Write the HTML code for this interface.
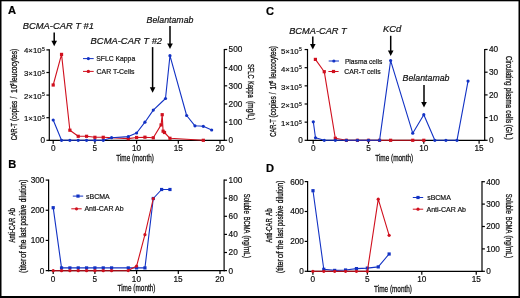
<!DOCTYPE html>
<html><head><meta charset="utf-8"><style>
html,body{margin:0;padding:0;background:#fff;}
svg{display:block;font-family:"Liberation Sans", sans-serif;}

</style></head><body>
<svg width="520" height="298" viewBox="0 0 520 298" xmlns="http://www.w3.org/2000/svg">
<rect width="520" height="298" fill="#fff"/>
<rect x="0" y="0" width="520" height="1.3" fill="#000"/>
<rect x="0" y="0" width="1.5" height="298" fill="#000"/>
<rect x="518.5" y="0" width="1.5" height="298" fill="#000"/>
<rect x="0" y="296" width="520" height="2" fill="#000"/>
<line x1="49.3" y1="49.300000000000004" x2="49.3" y2="140.9" stroke="#000" stroke-width="1.2"/>
<line x1="46.4" y1="140.3" x2="49.3" y2="140.3" stroke="#000" stroke-width="1.2"/>
<line x1="46.4" y1="117.70000000000002" x2="49.3" y2="117.70000000000002" stroke="#000" stroke-width="1.2"/>
<line x1="46.4" y1="95.10000000000001" x2="49.3" y2="95.10000000000001" stroke="#000" stroke-width="1.2"/>
<line x1="46.4" y1="72.5" x2="49.3" y2="72.5" stroke="#000" stroke-width="1.2"/>
<line x1="46.4" y1="49.900000000000006" x2="49.3" y2="49.900000000000006" stroke="#000" stroke-width="1.2"/>
<line x1="224.3" y1="48.90000000000001" x2="224.3" y2="140.9" stroke="#000" stroke-width="1.2"/>
<line x1="224.3" y1="140.3" x2="227.20000000000002" y2="140.3" stroke="#000" stroke-width="1.2"/>
<line x1="224.3" y1="122.14000000000001" x2="227.20000000000002" y2="122.14000000000001" stroke="#000" stroke-width="1.2"/>
<line x1="224.3" y1="103.98000000000002" x2="227.20000000000002" y2="103.98000000000002" stroke="#000" stroke-width="1.2"/>
<line x1="224.3" y1="85.82000000000001" x2="227.20000000000002" y2="85.82000000000001" stroke="#000" stroke-width="1.2"/>
<line x1="224.3" y1="67.66000000000001" x2="227.20000000000002" y2="67.66000000000001" stroke="#000" stroke-width="1.2"/>
<line x1="224.3" y1="49.500000000000014" x2="227.20000000000002" y2="49.500000000000014" stroke="#000" stroke-width="1.2"/>
<line x1="48.699999999999996" y1="140.3" x2="224.9" y2="140.3" stroke="#000" stroke-width="1.2"/>
<line x1="53.2" y1="140.3" x2="53.2" y2="143.70000000000002" stroke="#000" stroke-width="1.2"/>
<line x1="94.9" y1="140.3" x2="94.9" y2="143.70000000000002" stroke="#000" stroke-width="1.2"/>
<line x1="136.60000000000002" y1="140.3" x2="136.60000000000002" y2="143.70000000000002" stroke="#000" stroke-width="1.2"/>
<line x1="178.3" y1="140.3" x2="178.3" y2="143.70000000000002" stroke="#000" stroke-width="1.2"/>
<line x1="220.0" y1="140.3" x2="220.0" y2="143.70000000000002" stroke="#000" stroke-width="1.2"/>
<line x1="54.2" y1="32.4" x2="54.2" y2="41.7" stroke="#000" stroke-width="1.5"/>
<path d="M51.400000000000006,40.7 L57.0,40.7 L54.2,46.2 Z" fill="#000"/>
<line x1="152.6" y1="47.1" x2="152.6" y2="88.3" stroke="#000" stroke-width="1.5"/>
<path d="M149.79999999999998,87.3 L155.4,87.3 L152.6,92.8 Z" fill="#000"/>
<line x1="170.0" y1="26.0" x2="170.0" y2="44.5" stroke="#000" stroke-width="1.5"/>
<path d="M167.2,43.5 L172.8,43.5 L170.0,49.0 Z" fill="#000"/>
<polyline points="53.20,85.00 61.54,54.40 69.88,130.20 78.22,136.30 86.56,136.30 94.90,137.30 103.24,137.30 128.26,138.60 136.60,137.50 144.94,137.20 153.28,137.80 161.10,124.90 162.20,114.70 163.10,131.20 164.50,132.50 169.96,138.30 203.32,140.30" fill="none" stroke="#d0101e" stroke-width="1.1" stroke-linejoin="round"/>
<rect x="51.60" y="83.40" width="3.2" height="3.2" fill="#d0101e"/>
<rect x="59.94" y="52.80" width="3.2" height="3.2" fill="#d0101e"/>
<rect x="68.28" y="128.60" width="3.2" height="3.2" fill="#d0101e"/>
<rect x="76.62" y="134.70" width="3.2" height="3.2" fill="#d0101e"/>
<rect x="84.96" y="134.70" width="3.2" height="3.2" fill="#d0101e"/>
<rect x="93.30" y="135.70" width="3.2" height="3.2" fill="#d0101e"/>
<rect x="101.64" y="135.70" width="3.2" height="3.2" fill="#d0101e"/>
<rect x="126.66" y="137.00" width="3.2" height="3.2" fill="#d0101e"/>
<rect x="135.00" y="135.90" width="3.2" height="3.2" fill="#d0101e"/>
<rect x="143.34" y="135.60" width="3.2" height="3.2" fill="#d0101e"/>
<rect x="151.68" y="136.20" width="3.2" height="3.2" fill="#d0101e"/>
<rect x="159.50" y="123.30" width="3.2" height="3.2" fill="#d0101e"/>
<rect x="160.60" y="113.10" width="3.2" height="3.2" fill="#d0101e"/>
<rect x="161.50" y="129.60" width="3.2" height="3.2" fill="#d0101e"/>
<rect x="162.90" y="130.90" width="3.2" height="3.2" fill="#d0101e"/>
<rect x="168.36" y="136.70" width="3.2" height="3.2" fill="#d0101e"/>
<rect x="201.72" y="138.70" width="3.2" height="3.2" fill="#d0101e"/>
<polyline points="53.20,120.00 61.54,140.30 69.88,140.30 78.22,140.30 86.56,140.30 94.90,140.30 103.24,140.30 111.58,137.70 128.26,136.60 136.60,133.00 144.94,122.20 153.28,110.10 165.50,98.50 169.96,55.70 186.64,115.50 194.98,125.80 203.32,126.30 211.66,130.00" fill="none" stroke="#1232c4" stroke-width="1.1" stroke-linejoin="round"/>
<circle cx="53.20" cy="120.00" r="1.6" fill="#1232c4"/>
<circle cx="61.54" cy="140.30" r="1.6" fill="#1232c4"/>
<circle cx="69.88" cy="140.30" r="1.6" fill="#1232c4"/>
<circle cx="78.22" cy="140.30" r="1.6" fill="#1232c4"/>
<circle cx="86.56" cy="140.30" r="1.6" fill="#1232c4"/>
<circle cx="94.90" cy="140.30" r="1.6" fill="#1232c4"/>
<circle cx="103.24" cy="140.30" r="1.6" fill="#1232c4"/>
<circle cx="111.58" cy="137.70" r="1.6" fill="#1232c4"/>
<circle cx="128.26" cy="136.60" r="1.6" fill="#1232c4"/>
<circle cx="136.60" cy="133.00" r="1.6" fill="#1232c4"/>
<circle cx="144.94" cy="122.20" r="1.6" fill="#1232c4"/>
<circle cx="153.28" cy="110.10" r="1.6" fill="#1232c4"/>
<circle cx="165.50" cy="98.50" r="1.6" fill="#1232c4"/>
<circle cx="169.96" cy="55.70" r="1.6" fill="#1232c4"/>
<circle cx="186.64" cy="115.50" r="1.6" fill="#1232c4"/>
<circle cx="194.98" cy="125.80" r="1.6" fill="#1232c4"/>
<circle cx="203.32" cy="126.30" r="1.6" fill="#1232c4"/>
<circle cx="211.66" cy="130.00" r="1.6" fill="#1232c4"/>
<line x1="83.0" y1="58.6" x2="93.7" y2="58.6" stroke="#1232c4" stroke-width="1.0"/>
<circle cx="88.35" cy="58.60" r="1.6" fill="#1232c4"/>
<line x1="83.0" y1="71.4" x2="93.7" y2="71.4" stroke="#d0101e" stroke-width="1.0"/>
<circle cx="88.35" cy="71.40" r="1.7" fill="#d0101e"/>
<line x1="48.6" y1="179.49000000000004" x2="48.6" y2="271.20000000000005" stroke="#000" stroke-width="1.2"/>
<line x1="45.7" y1="270.6" x2="48.6" y2="270.6" stroke="#000" stroke-width="1.2"/>
<line x1="45.7" y1="240.43" x2="48.6" y2="240.43" stroke="#000" stroke-width="1.2"/>
<line x1="45.7" y1="210.26000000000002" x2="48.6" y2="210.26000000000002" stroke="#000" stroke-width="1.2"/>
<line x1="45.7" y1="180.09000000000003" x2="48.6" y2="180.09000000000003" stroke="#000" stroke-width="1.2"/>
<line x1="224.1" y1="179.50000000000003" x2="224.1" y2="271.20000000000005" stroke="#000" stroke-width="1.2"/>
<line x1="224.1" y1="270.6" x2="227.0" y2="270.6" stroke="#000" stroke-width="1.2"/>
<line x1="224.1" y1="252.50000000000003" x2="227.0" y2="252.50000000000003" stroke="#000" stroke-width="1.2"/>
<line x1="224.1" y1="234.40000000000003" x2="227.0" y2="234.40000000000003" stroke="#000" stroke-width="1.2"/>
<line x1="224.1" y1="216.3" x2="227.0" y2="216.3" stroke="#000" stroke-width="1.2"/>
<line x1="224.1" y1="198.20000000000002" x2="227.0" y2="198.20000000000002" stroke="#000" stroke-width="1.2"/>
<line x1="224.1" y1="180.10000000000002" x2="227.0" y2="180.10000000000002" stroke="#000" stroke-width="1.2"/>
<line x1="48.0" y1="270.6" x2="224.7" y2="270.6" stroke="#000" stroke-width="1.2"/>
<line x1="53.2" y1="270.6" x2="53.2" y2="274.0" stroke="#000" stroke-width="1.2"/>
<line x1="94.9" y1="270.6" x2="94.9" y2="274.0" stroke="#000" stroke-width="1.2"/>
<line x1="136.60000000000002" y1="270.6" x2="136.60000000000002" y2="274.0" stroke="#000" stroke-width="1.2"/>
<line x1="178.3" y1="270.6" x2="178.3" y2="274.0" stroke="#000" stroke-width="1.2"/>
<line x1="220.0" y1="270.6" x2="220.0" y2="274.0" stroke="#000" stroke-width="1.2"/>
<polyline points="53.20,207.70 61.54,267.90 69.88,267.90 78.22,267.90 86.56,267.90 94.90,267.90 103.24,267.90 111.58,267.90 128.26,267.90 136.60,267.90 144.94,267.90 153.28,198.50 161.62,189.50 169.96,189.50" fill="none" stroke="#1232c4" stroke-width="1.1" stroke-linejoin="round"/>
<rect x="51.60" y="206.10" width="3.2" height="3.2" fill="#1232c4"/>
<rect x="59.94" y="266.30" width="3.2" height="3.2" fill="#1232c4"/>
<rect x="68.28" y="266.30" width="3.2" height="3.2" fill="#1232c4"/>
<rect x="76.62" y="266.30" width="3.2" height="3.2" fill="#1232c4"/>
<rect x="84.96" y="266.30" width="3.2" height="3.2" fill="#1232c4"/>
<rect x="93.30" y="266.30" width="3.2" height="3.2" fill="#1232c4"/>
<rect x="101.64" y="266.30" width="3.2" height="3.2" fill="#1232c4"/>
<rect x="109.98" y="266.30" width="3.2" height="3.2" fill="#1232c4"/>
<rect x="126.66" y="266.30" width="3.2" height="3.2" fill="#1232c4"/>
<rect x="135.00" y="266.30" width="3.2" height="3.2" fill="#1232c4"/>
<rect x="143.34" y="266.30" width="3.2" height="3.2" fill="#1232c4"/>
<rect x="151.68" y="196.90" width="3.2" height="3.2" fill="#1232c4"/>
<rect x="160.02" y="187.90" width="3.2" height="3.2" fill="#1232c4"/>
<rect x="168.36" y="187.90" width="3.2" height="3.2" fill="#1232c4"/>
<polyline points="53.20,270.70 61.54,270.70 69.88,270.70 78.22,270.70 86.56,270.70 94.90,270.70 103.24,270.70 111.58,270.70 128.26,270.60 136.60,266.10 144.94,234.70 153.28,198.50" fill="none" stroke="#d0101e" stroke-width="1.1" stroke-linejoin="round"/>
<circle cx="53.20" cy="270.70" r="1.6" fill="#d0101e"/>
<circle cx="61.54" cy="270.70" r="1.6" fill="#d0101e"/>
<circle cx="69.88" cy="270.70" r="1.6" fill="#d0101e"/>
<circle cx="78.22" cy="270.70" r="1.6" fill="#d0101e"/>
<circle cx="86.56" cy="270.70" r="1.6" fill="#d0101e"/>
<circle cx="94.90" cy="270.70" r="1.6" fill="#d0101e"/>
<circle cx="103.24" cy="270.70" r="1.6" fill="#d0101e"/>
<circle cx="111.58" cy="270.70" r="1.6" fill="#d0101e"/>
<circle cx="128.26" cy="270.60" r="1.6" fill="#d0101e"/>
<circle cx="136.60" cy="266.10" r="1.6" fill="#d0101e"/>
<circle cx="144.94" cy="234.70" r="1.6" fill="#d0101e"/>
<circle cx="153.28" cy="198.50" r="1.6" fill="#d0101e"/>
<line x1="72.8" y1="196.1" x2="83.2" y2="196.1" stroke="#1232c4" stroke-width="1.0"/>
<rect x="76.40" y="194.50" width="3.2" height="3.2" fill="#1232c4"/>
<line x1="71.3" y1="208.8" x2="81.7" y2="208.8" stroke="#d0101e" stroke-width="1.0"/>
<circle cx="76.50" cy="208.80" r="1.6" fill="#d0101e"/>
<line x1="307.5" y1="48.95000000000001" x2="307.5" y2="140.9" stroke="#000" stroke-width="1.2"/>
<line x1="304.6" y1="140.3" x2="307.5" y2="140.3" stroke="#000" stroke-width="1.2"/>
<line x1="304.6" y1="122.15" x2="307.5" y2="122.15" stroke="#000" stroke-width="1.2"/>
<line x1="304.6" y1="104.00000000000001" x2="307.5" y2="104.00000000000001" stroke="#000" stroke-width="1.2"/>
<line x1="304.6" y1="85.85000000000002" x2="307.5" y2="85.85000000000002" stroke="#000" stroke-width="1.2"/>
<line x1="304.6" y1="67.70000000000002" x2="307.5" y2="67.70000000000002" stroke="#000" stroke-width="1.2"/>
<line x1="304.6" y1="49.55000000000001" x2="307.5" y2="49.55000000000001" stroke="#000" stroke-width="1.2"/>
<line x1="484.7" y1="48.90000000000001" x2="484.7" y2="140.9" stroke="#000" stroke-width="1.2"/>
<line x1="484.7" y1="140.3" x2="487.59999999999997" y2="140.3" stroke="#000" stroke-width="1.2"/>
<line x1="484.7" y1="117.60000000000001" x2="487.59999999999997" y2="117.60000000000001" stroke="#000" stroke-width="1.2"/>
<line x1="484.7" y1="94.9" x2="487.59999999999997" y2="94.9" stroke="#000" stroke-width="1.2"/>
<line x1="484.7" y1="72.20000000000002" x2="487.59999999999997" y2="72.20000000000002" stroke="#000" stroke-width="1.2"/>
<line x1="484.7" y1="49.500000000000014" x2="487.59999999999997" y2="49.500000000000014" stroke="#000" stroke-width="1.2"/>
<line x1="306.9" y1="140.3" x2="485.3" y2="140.3" stroke="#000" stroke-width="1.2"/>
<line x1="313.2" y1="140.3" x2="313.2" y2="143.70000000000002" stroke="#000" stroke-width="1.2"/>
<line x1="368.5" y1="140.3" x2="368.5" y2="143.70000000000002" stroke="#000" stroke-width="1.2"/>
<line x1="423.8" y1="140.3" x2="423.8" y2="143.70000000000002" stroke="#000" stroke-width="1.2"/>
<line x1="479.1" y1="140.3" x2="479.1" y2="143.70000000000002" stroke="#000" stroke-width="1.2"/>
<line x1="312.8" y1="36.4" x2="312.8" y2="45.1" stroke="#000" stroke-width="1.5"/>
<path d="M310.0,44.1 L315.6,44.1 L312.8,49.6 Z" fill="#000"/>
<line x1="390.7" y1="35.8" x2="390.7" y2="51.5" stroke="#000" stroke-width="1.5"/>
<path d="M387.9,50.5 L393.5,50.5 L390.7,56.0 Z" fill="#000"/>
<line x1="424.0" y1="85.1" x2="424.0" y2="102.9" stroke="#000" stroke-width="1.5"/>
<path d="M421.2,101.9 L426.8,101.9 L424.0,107.4 Z" fill="#000"/>
<polyline points="315.40,59.40 324.26,71.70 335.32,138.30 346.38,140.30 357.44,140.30 368.50,140.30 379.56,140.30 390.62,140.30 401.68,140.30 412.74,140.30 423.80,140.30" fill="none" stroke="#d0101e" stroke-width="1.1" stroke-linejoin="round"/>
<rect x="313.80" y="57.80" width="3.2" height="3.2" fill="#d0101e"/>
<rect x="322.66" y="70.10" width="3.2" height="3.2" fill="#d0101e"/>
<rect x="333.72" y="136.70" width="3.2" height="3.2" fill="#d0101e"/>
<rect x="344.78" y="138.70" width="3.2" height="3.2" fill="#d0101e"/>
<rect x="355.84" y="138.70" width="3.2" height="3.2" fill="#d0101e"/>
<rect x="366.90" y="138.70" width="3.2" height="3.2" fill="#d0101e"/>
<rect x="377.96" y="138.70" width="3.2" height="3.2" fill="#d0101e"/>
<rect x="389.02" y="138.70" width="3.2" height="3.2" fill="#d0101e"/>
<rect x="411.14" y="138.70" width="3.2" height="3.2" fill="#d0101e"/>
<rect x="422.20" y="138.70" width="3.2" height="3.2" fill="#d0101e"/>
<polyline points="313.30,121.80 315.50,137.80 324.26,140.30 335.32,140.30 346.38,140.30 357.44,140.30 368.50,140.30 379.56,140.30 390.62,60.60 412.74,133.20 423.80,114.70 434.86,140.30 445.92,140.30 456.98,140.30 468.04,81.10" fill="none" stroke="#1232c4" stroke-width="1.1" stroke-linejoin="round"/>
<circle cx="313.30" cy="121.80" r="1.6" fill="#1232c4"/>
<circle cx="315.50" cy="137.80" r="1.6" fill="#1232c4"/>
<circle cx="324.26" cy="140.30" r="1.6" fill="#1232c4"/>
<circle cx="335.32" cy="140.30" r="1.6" fill="#1232c4"/>
<circle cx="346.38" cy="140.30" r="1.6" fill="#1232c4"/>
<circle cx="357.44" cy="140.30" r="1.6" fill="#1232c4"/>
<circle cx="368.50" cy="140.30" r="1.6" fill="#1232c4"/>
<circle cx="379.56" cy="140.30" r="1.6" fill="#1232c4"/>
<circle cx="390.62" cy="60.60" r="1.6" fill="#1232c4"/>
<circle cx="412.74" cy="133.20" r="1.6" fill="#1232c4"/>
<circle cx="423.80" cy="114.70" r="1.6" fill="#1232c4"/>
<circle cx="434.86" cy="140.30" r="1.6" fill="#1232c4"/>
<circle cx="445.92" cy="140.30" r="1.6" fill="#1232c4"/>
<circle cx="456.98" cy="140.30" r="1.6" fill="#1232c4"/>
<circle cx="468.04" cy="81.10" r="1.6" fill="#1232c4"/>
<line x1="328.7" y1="61.0" x2="339.0" y2="61.0" stroke="#1232c4" stroke-width="1.0"/>
<circle cx="333.85" cy="61.00" r="1.6" fill="#1232c4"/>
<line x1="328.4" y1="71.5" x2="338.6" y2="71.5" stroke="#d0101e" stroke-width="1.0"/>
<rect x="331.90" y="69.90" width="3.2" height="3.2" fill="#d0101e"/>
<line x1="307.6" y1="181.00000000000003" x2="307.6" y2="271.90000000000003" stroke="#000" stroke-width="1.2"/>
<line x1="304.70000000000005" y1="271.3" x2="307.6" y2="271.3" stroke="#000" stroke-width="1.2"/>
<line x1="304.70000000000005" y1="241.4" x2="307.6" y2="241.4" stroke="#000" stroke-width="1.2"/>
<line x1="304.70000000000005" y1="211.5" x2="307.6" y2="211.5" stroke="#000" stroke-width="1.2"/>
<line x1="304.70000000000005" y1="181.60000000000002" x2="307.6" y2="181.60000000000002" stroke="#000" stroke-width="1.2"/>
<line x1="482.0" y1="181.10000000000002" x2="482.0" y2="271.90000000000003" stroke="#000" stroke-width="1.2"/>
<line x1="482.0" y1="271.3" x2="484.9" y2="271.3" stroke="#000" stroke-width="1.2"/>
<line x1="482.0" y1="248.9" x2="484.9" y2="248.9" stroke="#000" stroke-width="1.2"/>
<line x1="482.0" y1="226.5" x2="484.9" y2="226.5" stroke="#000" stroke-width="1.2"/>
<line x1="482.0" y1="204.10000000000002" x2="484.9" y2="204.10000000000002" stroke="#000" stroke-width="1.2"/>
<line x1="482.0" y1="181.70000000000002" x2="484.9" y2="181.70000000000002" stroke="#000" stroke-width="1.2"/>
<line x1="307.0" y1="271.3" x2="482.6" y2="271.3" stroke="#000" stroke-width="1.2"/>
<line x1="312.9" y1="271.3" x2="312.9" y2="274.7" stroke="#000" stroke-width="1.2"/>
<line x1="367.34999999999997" y1="271.3" x2="367.34999999999997" y2="274.7" stroke="#000" stroke-width="1.2"/>
<line x1="421.79999999999995" y1="271.3" x2="421.79999999999995" y2="274.7" stroke="#000" stroke-width="1.2"/>
<line x1="476.25" y1="271.3" x2="476.25" y2="274.7" stroke="#000" stroke-width="1.2"/>
<polyline points="313.00,190.70 323.79,269.30 334.68,270.40 345.57,270.00 356.46,268.60 367.35,268.10 378.24,266.90 389.13,254.00" fill="none" stroke="#1232c4" stroke-width="1.1" stroke-linejoin="round"/>
<rect x="311.40" y="189.10" width="3.2" height="3.2" fill="#1232c4"/>
<rect x="322.19" y="267.70" width="3.2" height="3.2" fill="#1232c4"/>
<rect x="333.08" y="268.80" width="3.2" height="3.2" fill="#1232c4"/>
<rect x="343.97" y="268.40" width="3.2" height="3.2" fill="#1232c4"/>
<rect x="354.86" y="267.00" width="3.2" height="3.2" fill="#1232c4"/>
<rect x="365.75" y="266.50" width="3.2" height="3.2" fill="#1232c4"/>
<rect x="376.64" y="265.30" width="3.2" height="3.2" fill="#1232c4"/>
<rect x="387.53" y="252.40" width="3.2" height="3.2" fill="#1232c4"/>
<polyline points="312.90,271.30 323.79,271.30 334.68,271.30 345.57,271.30 356.46,271.30 367.35,271.30 378.24,199.20 389.13,235.30" fill="none" stroke="#d0101e" stroke-width="1.1" stroke-linejoin="round"/>
<circle cx="312.90" cy="271.30" r="1.6" fill="#d0101e"/>
<circle cx="323.79" cy="271.30" r="1.6" fill="#d0101e"/>
<circle cx="334.68" cy="271.30" r="1.6" fill="#d0101e"/>
<circle cx="345.57" cy="271.30" r="1.6" fill="#d0101e"/>
<circle cx="356.46" cy="271.30" r="1.6" fill="#d0101e"/>
<circle cx="367.35" cy="271.30" r="1.6" fill="#d0101e"/>
<circle cx="378.24" cy="199.20" r="1.6" fill="#d0101e"/>
<circle cx="389.13" cy="235.30" r="1.6" fill="#d0101e"/>
<line x1="412.8" y1="197.5" x2="423.2" y2="197.5" stroke="#1232c4" stroke-width="1.0"/>
<rect x="416.40" y="195.90" width="3.2" height="3.2" fill="#1232c4"/>
<line x1="412.8" y1="209.2" x2="423.2" y2="209.2" stroke="#d0101e" stroke-width="1.0"/>
<circle cx="418.00" cy="209.20" r="1.6" fill="#d0101e"/>
<g opacity="0.999" stroke="#111" stroke-width="0.2">
<text transform="translate(8.00,14.10) scale(1.08,1)" font-size="10.3" font-weight="bold" fill="#000">A</text>
<text transform="translate(8.30,168.20) scale(1.08,1)" font-size="10.3" font-weight="bold" fill="#000">B</text>
<text transform="translate(265.90,14.70) scale(1.08,1)" font-size="10.3" font-weight="bold" fill="#000">C</text>
<text transform="translate(266.00,171.60) scale(1.08,1)" font-size="10.3" font-weight="bold" fill="#000">D</text>
<text transform="translate(45.10,143.10) scale(0.97,1)" font-size="8.5" text-anchor="end" fill="#111">0</text>
<text x="41.6" y="121.10000000000002" font-size="7.8" text-anchor="end" fill="#111">1×10</text>
<text x="42.10" y="118.70" font-size="5" fill="#111">5</text>
<text x="41.6" y="98.50000000000001" font-size="7.8" text-anchor="end" fill="#111">2×10</text>
<text x="42.10" y="96.10" font-size="5" fill="#111">5</text>
<text x="41.6" y="75.9" font-size="7.8" text-anchor="end" fill="#111">3×10</text>
<text x="42.10" y="73.50" font-size="5" fill="#111">5</text>
<text x="41.6" y="53.300000000000004" font-size="7.8" text-anchor="end" fill="#111">4×10</text>
<text x="42.10" y="50.90" font-size="5" fill="#111">5</text>
<text transform="translate(228.60,143.20) scale(0.97,1)" font-size="8.5" fill="#111">0</text>
<text transform="translate(228.60,125.04) scale(0.97,1)" font-size="8.5" fill="#111">100</text>
<text transform="translate(228.60,106.88) scale(0.97,1)" font-size="8.5" fill="#111">200</text>
<text transform="translate(228.60,88.72) scale(0.97,1)" font-size="8.5" fill="#111">300</text>
<text transform="translate(228.60,70.56) scale(0.97,1)" font-size="8.5" fill="#111">400</text>
<text transform="translate(228.60,52.40) scale(0.97,1)" font-size="8.5" fill="#111">500</text>
<text transform="translate(53.20,151.00) scale(0.97,1)" font-size="8.5" text-anchor="middle" fill="#111">0</text>
<text transform="translate(94.90,151.00) scale(0.97,1)" font-size="8.5" text-anchor="middle" fill="#111">5</text>
<text transform="translate(136.60,151.00) scale(0.97,1)" font-size="8.5" text-anchor="middle" fill="#111">10</text>
<text transform="translate(178.30,151.00) scale(0.97,1)" font-size="8.5" text-anchor="middle" fill="#111">15</text>
<text transform="translate(220.00,151.00) scale(0.97,1)" font-size="8.5" text-anchor="middle" fill="#111">20</text>
<text x="116.3" y="160.8" font-size="8.8" textLength="37.5" lengthAdjust="spacingAndGlyphs" fill="#111" stroke="#111" stroke-width="0.28">Time (month)</text>
<text transform="translate(17.30,140.30) rotate(-90) scale(0.676,1)" font-size="8.4" fill="#111" stroke="#111" stroke-width="0.3">CAR-T</text>
<text transform="translate(17.30,121.00) rotate(-90) scale(0.750,1)" font-size="8.4" fill="#111" stroke="#111" stroke-width="0.3">(copies</text>
<text transform="translate(17.30,98.40) rotate(-90) scale(0.750,1)" font-size="8.4" fill="#111" stroke="#111" stroke-width="0.3">/</text>
<text transform="translate(17.30,92.90) rotate(-90) scale(0.865,1)" font-size="8.4" fill="#111" stroke="#111" stroke-width="0.3">10</text>
<text transform="translate(13.60,85.40) rotate(-90) scale(0.727,1)" font-size="5.2" fill="#111" stroke="#111" stroke-width="0.3">6</text>
<text transform="translate(17.30,82.40) rotate(-90) scale(0.794,1)" font-size="8.4" fill="#111" stroke="#111" stroke-width="0.3">leucocytes)</text>
<text transform="translate(247.80,63.90) rotate(90) scale(0.692,1)" font-size="8.4" fill="#111" stroke="#111" stroke-width="0.3">SFLC</text>
<text transform="translate(247.80,80.90) rotate(90) scale(0.699,1)" font-size="8.4" fill="#111" stroke="#111" stroke-width="0.3">Kappa</text>
<text transform="translate(247.80,100.90) rotate(90) scale(0.797,1)" font-size="8.4" fill="#111" stroke="#111" stroke-width="0.3">(mg/L)</text>
<text x="22.8" y="28.6" font-size="9.0" textLength="71.2" lengthAdjust="spacingAndGlyphs" font-style="italic" fill="#111">BCMA-CAR T #1</text>
<text x="90.6" y="43.6" font-size="9.0" textLength="71.5" lengthAdjust="spacingAndGlyphs" font-style="italic" fill="#111">BCMA-CAR T #2</text>
<text x="146.6" y="23.0" font-size="9.0" textLength="46.8" lengthAdjust="spacingAndGlyphs" font-style="italic" fill="#111">Belantamab</text>
<text x="96.2" y="61.1" font-size="7.2" textLength="39.0" lengthAdjust="spacingAndGlyphs" fill="#111">SFLC Kappa</text>
<text x="96.5" y="73.9" font-size="7.2" textLength="38.0" lengthAdjust="spacingAndGlyphs" fill="#111">CAR T-Cells</text>
<text transform="translate(44.40,273.50) scale(0.97,1)" font-size="8.5" text-anchor="end" fill="#111">0</text>
<text transform="translate(44.40,243.33) scale(0.97,1)" font-size="8.5" text-anchor="end" fill="#111">100</text>
<text transform="translate(44.40,213.16) scale(0.97,1)" font-size="8.5" text-anchor="end" fill="#111">200</text>
<text transform="translate(44.40,182.99) scale(0.97,1)" font-size="8.5" text-anchor="end" fill="#111">300</text>
<text transform="translate(228.60,273.50) scale(0.97,1)" font-size="8.5" fill="#111">0</text>
<text transform="translate(228.60,255.40) scale(0.97,1)" font-size="8.5" fill="#111">20</text>
<text transform="translate(228.60,237.30) scale(0.97,1)" font-size="8.5" fill="#111">40</text>
<text transform="translate(228.60,219.20) scale(0.97,1)" font-size="8.5" fill="#111">60</text>
<text transform="translate(228.60,201.10) scale(0.97,1)" font-size="8.5" fill="#111">80</text>
<text transform="translate(228.60,183.00) scale(0.97,1)" font-size="8.5" fill="#111">100</text>
<text transform="translate(53.00,282.20) scale(0.97,1)" font-size="8.5" text-anchor="middle" fill="#111">0</text>
<text transform="translate(94.70,282.20) scale(0.97,1)" font-size="8.5" text-anchor="middle" fill="#111">5</text>
<text transform="translate(136.40,282.20) scale(0.97,1)" font-size="8.5" text-anchor="middle" fill="#111">10</text>
<text transform="translate(178.10,282.20) scale(0.97,1)" font-size="8.5" text-anchor="middle" fill="#111">15</text>
<text transform="translate(219.80,282.20) scale(0.97,1)" font-size="8.5" text-anchor="middle" fill="#111">20</text>
<text x="117.5" y="291.0" font-size="8.8" textLength="38.0" lengthAdjust="spacingAndGlyphs" fill="#111" stroke="#111" stroke-width="0.28">Time (month)</text>
<text transform="translate(14.80,242.40) rotate(-90) scale(0.702,1)" font-size="8.4" fill="#111" stroke="#111" stroke-width="0.3">Anti-CAR</text>
<text transform="translate(14.80,215.50) rotate(-90) scale(0.729,1)" font-size="8.4" fill="#111" stroke="#111" stroke-width="0.3">Ab</text>
<text transform="translate(26.10,272.90) rotate(-90) scale(0.843,1)" font-size="8.4" fill="#111" stroke="#111" stroke-width="0.3">(titer</text>
<text transform="translate(26.10,257.90) rotate(-90) scale(0.963,1)" font-size="8.4" fill="#111" stroke="#111" stroke-width="0.3">of</text>
<text transform="translate(26.10,248.90) rotate(-90) scale(0.809,1)" font-size="8.4" fill="#111" stroke="#111" stroke-width="0.3">the</text>
<text transform="translate(26.10,237.60) rotate(-90) scale(0.790,1)" font-size="8.4" fill="#111" stroke="#111" stroke-width="0.3">last</text>
<text transform="translate(26.10,225.40) rotate(-90) scale(0.726,1)" font-size="8.4" fill="#111" stroke="#111" stroke-width="0.3">positive</text>
<text transform="translate(26.10,202.30) rotate(-90) scale(0.769,1)" font-size="8.4" fill="#111" stroke="#111" stroke-width="0.3">dilution)</text>
<text transform="translate(244.10,193.80) rotate(90) scale(0.713,1)" font-size="8.4" fill="#111" stroke="#111" stroke-width="0.3">Soluble</text>
<text transform="translate(244.10,216.80) rotate(90) scale(0.678,1)" font-size="8.4" fill="#111" stroke="#111" stroke-width="0.3">BCMA</text>
<text transform="translate(244.10,235.40) rotate(90) scale(0.785,1)" font-size="8.4" fill="#111" stroke="#111" stroke-width="0.3">(ng/mL)</text>
<text x="86.1" y="198.6" font-size="7.2" textLength="23.6" lengthAdjust="spacingAndGlyphs" fill="#111">sBCMA</text>
<text x="84.4" y="211.3" font-size="7.2" textLength="39.2" lengthAdjust="spacingAndGlyphs" fill="#111">Anti-CAR Ab</text>
<text transform="translate(302.80,142.90) scale(0.97,1)" font-size="8.5" text-anchor="end" fill="#111">0</text>
<text x="298.59999999999997" y="126.25000000000001" font-size="7.8" text-anchor="end" fill="#111">1×10</text>
<text x="299.10" y="123.85" font-size="5" fill="#111">5</text>
<text x="298.59999999999997" y="108.10000000000002" font-size="7.8" text-anchor="end" fill="#111">2×10</text>
<text x="299.10" y="105.70" font-size="5" fill="#111">5</text>
<text x="298.59999999999997" y="89.95000000000003" font-size="7.8" text-anchor="end" fill="#111">3×10</text>
<text x="299.10" y="87.55" font-size="5" fill="#111">5</text>
<text x="298.59999999999997" y="71.80000000000003" font-size="7.8" text-anchor="end" fill="#111">4×10</text>
<text x="299.10" y="69.40" font-size="5" fill="#111">5</text>
<text x="298.59999999999997" y="53.65000000000001" font-size="7.8" text-anchor="end" fill="#111">5×10</text>
<text x="299.10" y="51.25" font-size="5" fill="#111">5</text>
<text transform="translate(489.00,143.20) scale(0.97,1)" font-size="8.5" fill="#111">0</text>
<text transform="translate(489.00,120.50) scale(0.97,1)" font-size="8.5" fill="#111">10</text>
<text transform="translate(489.00,97.80) scale(0.97,1)" font-size="8.5" fill="#111">20</text>
<text transform="translate(489.00,75.10) scale(0.97,1)" font-size="8.5" fill="#111">30</text>
<text transform="translate(489.00,52.40) scale(0.97,1)" font-size="8.5" fill="#111">40</text>
<text transform="translate(313.20,151.00) scale(0.97,1)" font-size="8.5" text-anchor="middle" fill="#111">0</text>
<text transform="translate(368.50,151.00) scale(0.97,1)" font-size="8.5" text-anchor="middle" fill="#111">5</text>
<text transform="translate(423.80,151.00) scale(0.97,1)" font-size="8.5" text-anchor="middle" fill="#111">10</text>
<text transform="translate(479.10,151.00) scale(0.97,1)" font-size="8.5" text-anchor="middle" fill="#111">15</text>
<text x="375.2" y="160.7" font-size="8.8" textLength="38.0" lengthAdjust="spacingAndGlyphs" fill="#111" stroke="#111" stroke-width="0.28">Time (month)</text>
<text transform="translate(276.40,136.70) rotate(-90) scale(0.684,1)" font-size="8.4" fill="#111" stroke="#111" stroke-width="0.3">CAR-T</text>
<text transform="translate(276.40,117.60) rotate(-90) scale(0.795,1)" font-size="8.4" fill="#111" stroke="#111" stroke-width="0.3">(copies</text>
<text transform="translate(276.40,94.20) rotate(-90) scale(0.750,1)" font-size="8.4" fill="#111" stroke="#111" stroke-width="0.3">/</text>
<text transform="translate(276.40,89.60) rotate(-90) scale(0.750,1)" font-size="8.4" fill="#111" stroke="#111" stroke-width="0.3">10</text>
<text transform="translate(272.70,83.10) rotate(-90) scale(0.767,1)" font-size="5.2" fill="#111" stroke="#111" stroke-width="0.3">6</text>
<text transform="translate(276.40,78.40) rotate(-90) scale(0.763,1)" font-size="8.4" fill="#111" stroke="#111" stroke-width="0.3">leucocytes)</text>
<text transform="translate(506.10,56.00) rotate(90) scale(0.743,1)" font-size="8.4" fill="#111" stroke="#111" stroke-width="0.3">Circulating</text>
<text transform="translate(506.10,88.10) rotate(90) scale(0.735,1)" font-size="8.4" fill="#111" stroke="#111" stroke-width="0.3">plasma</text>
<text transform="translate(506.10,110.30) rotate(90) scale(0.762,1)" font-size="8.4" fill="#111" stroke="#111" stroke-width="0.3">cells</text>
<text transform="translate(506.10,124.60) rotate(90) scale(0.796,1)" font-size="8.4" fill="#111" stroke="#111" stroke-width="0.3">(G/L)</text>
<text x="289.2" y="34.1" font-size="9.0" textLength="57.5" lengthAdjust="spacingAndGlyphs" font-style="italic" fill="#111">BCMA-CAR T</text>
<text x="383.1" y="32.2" font-size="9.0" textLength="18.2" lengthAdjust="spacingAndGlyphs" font-style="italic" fill="#111">KCd</text>
<text x="402.6" y="81.4" font-size="9.0" textLength="46.9" lengthAdjust="spacingAndGlyphs" font-style="italic" fill="#111">Belantamab</text>
<text x="344.9" y="63.5" font-size="7.2" textLength="37.5" lengthAdjust="spacingAndGlyphs" fill="#111">Plasma cells</text>
<text x="344.2" y="74.0" font-size="7.2" textLength="36.4" lengthAdjust="spacingAndGlyphs" fill="#111">CAR-T cells</text>
<text transform="translate(303.90,274.20) scale(0.97,1)" font-size="8.5" text-anchor="end" fill="#111">0</text>
<text transform="translate(303.90,244.30) scale(0.97,1)" font-size="8.5" text-anchor="end" fill="#111">200</text>
<text transform="translate(303.90,214.40) scale(0.97,1)" font-size="8.5" text-anchor="end" fill="#111">400</text>
<text transform="translate(303.90,184.50) scale(0.97,1)" font-size="8.5" text-anchor="end" fill="#111">600</text>
<text transform="translate(486.20,274.20) scale(0.97,1)" font-size="8.5" fill="#111">0</text>
<text transform="translate(486.20,251.80) scale(0.97,1)" font-size="8.5" fill="#111">100</text>
<text transform="translate(486.20,229.40) scale(0.97,1)" font-size="8.5" fill="#111">200</text>
<text transform="translate(486.20,207.00) scale(0.97,1)" font-size="8.5" fill="#111">300</text>
<text transform="translate(486.20,184.60) scale(0.97,1)" font-size="8.5" fill="#111">400</text>
<text transform="translate(312.90,281.60) scale(0.97,1)" font-size="8.5" text-anchor="middle" fill="#111">0</text>
<text transform="translate(367.35,281.60) scale(0.97,1)" font-size="8.5" text-anchor="middle" fill="#111">5</text>
<text transform="translate(421.80,281.60) scale(0.97,1)" font-size="8.5" text-anchor="middle" fill="#111">10</text>
<text transform="translate(476.25,281.60) scale(0.97,1)" font-size="8.5" text-anchor="middle" fill="#111">15</text>
<text x="374.1" y="291.5" font-size="8.8" textLength="37.9" lengthAdjust="spacingAndGlyphs" fill="#111" stroke="#111" stroke-width="0.28">Time (month)</text>
<text transform="translate(272.20,242.70) rotate(-90) scale(0.699,1)" font-size="8.4" fill="#111" stroke="#111" stroke-width="0.3">Anti-CAR</text>
<text transform="translate(272.20,215.90) rotate(-90) scale(0.729,1)" font-size="8.4" fill="#111" stroke="#111" stroke-width="0.3">Ab</text>
<text transform="translate(283.40,273.20) rotate(-90) scale(0.837,1)" font-size="8.4" fill="#111" stroke="#111" stroke-width="0.3">(titer</text>
<text transform="translate(283.40,258.32) rotate(-90) scale(0.956,1)" font-size="8.4" fill="#111" stroke="#111" stroke-width="0.3">of</text>
<text transform="translate(283.40,249.38) rotate(-90) scale(0.803,1)" font-size="8.4" fill="#111" stroke="#111" stroke-width="0.3">the</text>
<text transform="translate(283.40,238.17) rotate(-90) scale(0.784,1)" font-size="8.4" fill="#111" stroke="#111" stroke-width="0.3">last</text>
<text transform="translate(283.40,226.06) rotate(-90) scale(0.721,1)" font-size="8.4" fill="#111" stroke="#111" stroke-width="0.3">positive</text>
<text transform="translate(283.40,203.13) rotate(-90) scale(0.763,1)" font-size="8.4" fill="#111" stroke="#111" stroke-width="0.3">dilution)</text>
<text transform="translate(506.10,193.80) rotate(90) scale(0.717,1)" font-size="8.4" fill="#111" stroke="#111" stroke-width="0.3">Soluble</text>
<text transform="translate(506.10,216.80) rotate(90) scale(0.678,1)" font-size="8.4" fill="#111" stroke="#111" stroke-width="0.3">BCMA</text>
<text transform="translate(506.10,235.40) rotate(90) scale(0.785,1)" font-size="8.4" fill="#111" stroke="#111" stroke-width="0.3">(ng/mL)</text>
<text x="427.2" y="200.0" font-size="7.2" textLength="23.6" lengthAdjust="spacingAndGlyphs" fill="#111">sBCMA</text>
<text x="426.5" y="211.7" font-size="7.2" textLength="39.5" lengthAdjust="spacingAndGlyphs" fill="#111">Anti-CAR Ab</text>
</g>
</svg>
</body></html>
